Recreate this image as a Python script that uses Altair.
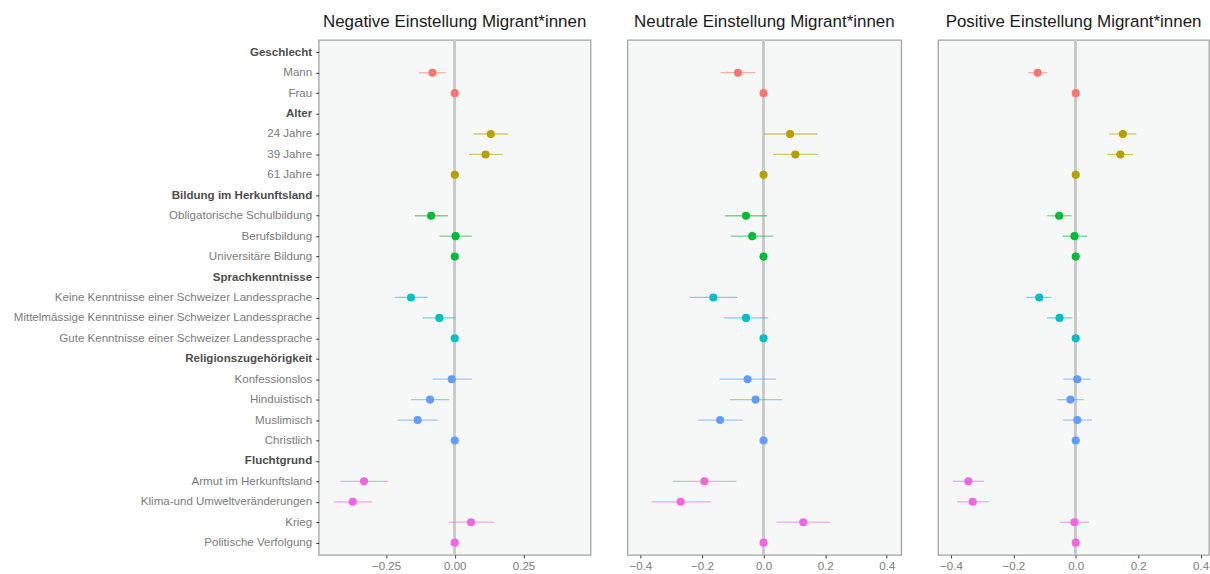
import altair as alt
import pandas as pd

rows = ["Geschlecht", "Mann", "Frau", "Alter", "24 Jahre", "39 Jahre", "61 Jahre",
        "Bildung im Herkunftsland", "Obligatorische Schulbildung", "Berufsbildung",
        "Universitäre Bildung", "Sprachkenntnisse",
        "Keine Kenntnisse einer Schweizer Landessprache",
        "Mittelmässige Kenntnisse einer Schweizer Landessprache",
        "Gute Kenntnisse einer Schweizer Landessprache", "Religionszugehörigkeit",
        "Konfessionslos", "Hinduistisch", "Muslimisch", "Christlich", "Fluchtgrund",
        "Armut im Herkunftsland", "Klima-und Umweltveränderungen", "Krieg",
        "Politische Verfolgung"]
headers = ["Geschlecht", "Alter", "Bildung im Herkunftsland", "Sprachkenntnisse",
           "Religionszugehörigkeit", "Fluchtgrund"]

levels = ["Mann", "Frau", "24 Jahre", "39 Jahre", "61 Jahre",
          "Obligatorische Schulbildung", "Berufsbildung", "Universitäre Bildung",
          "Keine Kenntnisse einer Schweizer Landessprache",
          "Mittelmässige Kenntnisse einer Schweizer Landessprache",
          "Gute Kenntnisse einer Schweizer Landessprache",
          "Konfessionslos", "Hinduistisch", "Muslimisch", "Christlich",
          "Armut im Herkunftsland", "Klima-und Umweltveränderungen", "Krieg",
          "Politische Verfolgung"]
groups = ["Geschlecht"] * 2 + ["Alter"] * 3 + ["Bildung"] * 3 + ["Sprache"] * 3 + \
         ["Religion"] * 4 + ["Flucht"] * 4
group_order = ["Geschlecht", "Alter", "Bildung", "Sprache", "Religion", "Flucht"]
group_colors = ["#F8766D", "#B79F00", "#00BA38", "#00BFC4", "#619CFF", "#F564E3"]

titles = ["Negative Einstellung Migrant*innen", "Neutrale Einstellung Migrant*innen",
          "Positive Einstellung Migrant*innen"]

neg_est = [-0.081, 0, 0.131, 0.112, 0, -0.086, 0.003, 0, -0.159, -0.056, 0,
           -0.011, -0.090, -0.135, 0, -0.330, -0.371, 0.059, 0]
neg_lo = [-0.131, 0, 0.069, 0.052, 0, -0.145, -0.056, 0, -0.219, -0.117, 0,
          -0.081, -0.159, -0.208, 0, -0.416, -0.440, -0.022, 0]
neg_hi = [-0.032, 0, 0.194, 0.174, 0, -0.025, 0.062, 0, -0.098, 0.003, 0,
          0.062, -0.021, -0.060, 0, -0.242, -0.300, 0.143, 0]

neu_est = [-0.083, 0, 0.086, 0.103, 0, -0.057, -0.037, 0, -0.163, -0.057, 0,
           -0.052, -0.026, -0.141, 0, -0.192, -0.269, 0.129, 0]
neu_lo = [-0.139, 0, 0.001, 0.031, 0, -0.124, -0.107, 0, -0.239, -0.128, 0,
          -0.143, -0.109, -0.214, 0, -0.294, -0.363, 0.042, 0]
neu_hi = [-0.027, 0, 0.175, 0.177, 0, 0.011, 0.032, 0, -0.085, 0.015, 0,
          0.040, 0.060, -0.067, 0, -0.088, -0.172, 0.216, 0]

pos_est = [-0.122, 0, 0.151, 0.143, 0, -0.053, -0.004, 0, -0.117, -0.052, 0,
           0.005, -0.017, 0.005, 0, -0.344, -0.330, -0.004, 0]
pos_lo = [-0.153, 0, 0.107, 0.102, 0, -0.091, -0.042, 0, -0.158, -0.093, 0,
          -0.040, -0.060, -0.041, 0, -0.393, -0.380, -0.052, 0]
pos_hi = [-0.091, 0, 0.194, 0.184, 0, -0.014, 0.036, 0, -0.078, -0.011, 0,
          0.048, 0.026, 0.052, 0, -0.294, -0.279, 0.043, 0]

tick_sets = [[-0.25, 0, 0.25], [-0.4, -0.2, 0, 0.2, 0.4], [-0.4, -0.2, 0, 0.2, 0.4]]
formats = [".2f", ".1f", ".1f"]
domains = [[-0.495, 0.494], [-0.442, 0.447], [-0.441, 0.427]]
widths = [273, 275, 272]

header_test = " || ".join("datum.value == '%s'" % h for h in headers)

def panel(i, est, lo, hi):
    df = pd.DataFrame({"label": levels, "group": groups, "est": est, "lo": lo, "hi": hi})
    x_scale = alt.Scale(domain=domains[i], nice=False, zero=False)
    y_scale = alt.Scale(type="point", domain=rows, padding=0.6)
    if i == 0:
        y_axis = alt.Axis(title=None, domain=False, grid=False, labelFontSize=11.6,
                          labelFont="Liberation Sans", tickColor="#333333", tickSize=3,
                          tickWidth=1, labelPadding=4, labelLimit=500,
                          labelColor={"condition": {"test": header_test, "value": "#4d4d4d"},
                                      "value": "#7a7a7a"},
                          labelFontWeight={"condition": {"test": header_test, "value": "bold"},
                                           "value": "normal"})
    else:
        y_axis = None
    x_axis = alt.Axis(title=None, values=tick_sets[i], format=formats[i], domain=False,
                      grid=False, labelFontSize=11.6, labelFont="Liberation Sans",
                      labelColor="#7a7a7a", tickColor="#333333", tickSize=3,
                      labelPadding=3)
    color = alt.Color("group:N", scale=alt.Scale(domain=group_order, range=group_colors),
                      legend=None)
    zero = alt.Chart(df).mark_rule(color="#c9c9c9", strokeWidth=1.8).encode(
        x=alt.datum(0, scale=x_scale, axis=x_axis))
    bars = alt.Chart(df).mark_rule(strokeWidth=1.3, opacity=0.55).encode(
        x=alt.X("lo:Q", scale=x_scale, axis=x_axis), x2="hi:Q",
        y=alt.Y("label:N", scale=y_scale, axis=y_axis, sort=rows), color=color)
    pts = alt.Chart(df).mark_circle(size=66, opacity=1).encode(
        x=alt.X("est:Q", scale=x_scale, axis=x_axis),
        y=alt.Y("label:N", scale=y_scale, axis=y_axis, sort=rows), color=color)
    return alt.layer(zero, bars, pts).properties(width=widths[i], height=517,
                                                 title=titles[i])

chart = alt.hconcat(
    panel(0, neg_est, neg_lo, neg_hi),
    panel(1, neu_est, neu_lo, neu_hi),
    panel(2, pos_est, pos_lo, pos_hi),
    spacing=35,
).properties(
    padding={"left": 12, "top": 11, "right": 0, "bottom": 0},
    background="white",
).configure_view(
    stroke="#a3a3a3", strokeWidth=1.3, fill="#F6F7F7"
).configure_title(
    fontSize=17, font="Liberation Sans", fontWeight="normal", color="#1a1a1a",
    offset=8, anchor="middle"
)

chart.save("out.html", embed_options={"renderer": "svg", "actions": False})
